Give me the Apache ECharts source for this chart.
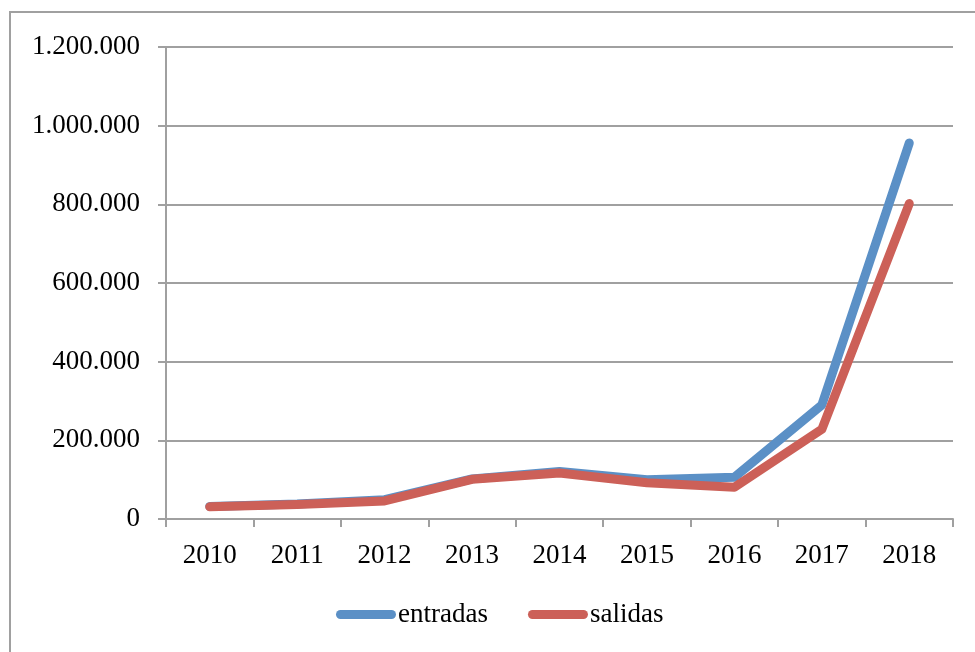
<!DOCTYPE html>
<html>
<head>
<meta charset="utf-8">
<script src="https://cdn.jsdelivr.net/npm/echarts@6/dist/echarts.min.js"></script>
<style>
  html, body { margin: 0; padding: 0; background: #fff; }
  #chart { width: 975px; height: 652px; }
</style>
</head>
<body>
<div id="chart"></div>
<script>
// datos
const years = ['2010', '2011', '2012', '2013', '2014', '2015', '2016', '2017', '2018'];
const entradas = [32000, 38000, 49000, 102000, 121000, 100000, 106000, 290000, 956000];
const salidas = [31000, 37000, 46000, 101000, 117000, 92000, 81000, 228000, 802000];

const FONT = '"Liberation Serif", "DejaVu Serif", serif';
const GRAY = '#a0a0a0';
const BLUE = '#5b90c6';
const RED = '#cc6058';
// icono de leyenda: barra con extremos redondeados
const LEG_ICON = 'path://M4.5,0 H55.5 A4.5,4.5 0 0 1 55.5,9 H4.5 A4.5,4.5 0 0 1 4.5,0 Z';

// 1200000 -> 1.200.000
function fmt(v) {
    return String(v).replace(/\B(?=(\d{3})+(?!\d))/g, '.');
}

const chart = echarts.init(document.getElementById('chart'));

chart.setOption({
    backgroundColor: '#fff',
    animation: false,
    textStyle: { fontFamily: FONT, color: '#000' },
    graphic: [{
        type: 'rect',
        shape: { x: 10, y: 12, width: 1000, height: 700 },
        style: { fill: 'none', stroke: GRAY, lineWidth: 2 },
        silent: true
    }],
    grid: { left: 166, right: 22, top: 47, bottom: 133 },
    legend: {
        data: [
            { name: 'entradas', icon: LEG_ICON, itemStyle: { color: BLUE } },
            { name: 'salidas', icon: LEG_ICON, itemStyle: { color: RED } }
        ],
        top: 596,
        left: 331,
        itemWidth: 60,
        itemHeight: 9,
        itemGap: 40,
        textStyle: { fontFamily: FONT, fontSize: 27, color: '#000', padding: [0, 0, 0, -3] }
    },
    xAxis: {
        type: 'category',
        data: years,
        boundaryGap: true,
        axisLine: { lineStyle: { color: GRAY, width: 2 } },
        axisTick: { show: true, length: 8, lineStyle: { color: GRAY, width: 2 } },
        axisLabel: { fontFamily: FONT, fontSize: 27, color: '#000', margin: 23 }
    },
    yAxis: {
        type: 'value',
        min: 0,
        max: 1200000,
        interval: 200000,
        axisLine: { show: true, lineStyle: { color: GRAY, width: 2 } },
        axisTick: { show: true, length: 8, lineStyle: { color: GRAY, width: 2 } },
        axisLabel: { fontFamily: FONT, fontSize: 27, color: '#000', margin: 26, formatter: fmt },
        splitLine: { lineStyle: { color: GRAY, width: 2 } }
    },
    series: [
        {
            name: 'entradas',
            type: 'line',
            data: entradas,
            symbol: 'none',
            lineStyle: { width: 9, color: BLUE, cap: 'round', join: 'round' },
            itemStyle: { color: BLUE }
        },
        {
            name: 'salidas',
            type: 'line',
            data: salidas,
            symbol: 'none',
            lineStyle: { width: 9, color: RED, cap: 'round', join: 'round' },
            itemStyle: { color: RED }
        }
    ]
});
</script>
</body>
</html>
